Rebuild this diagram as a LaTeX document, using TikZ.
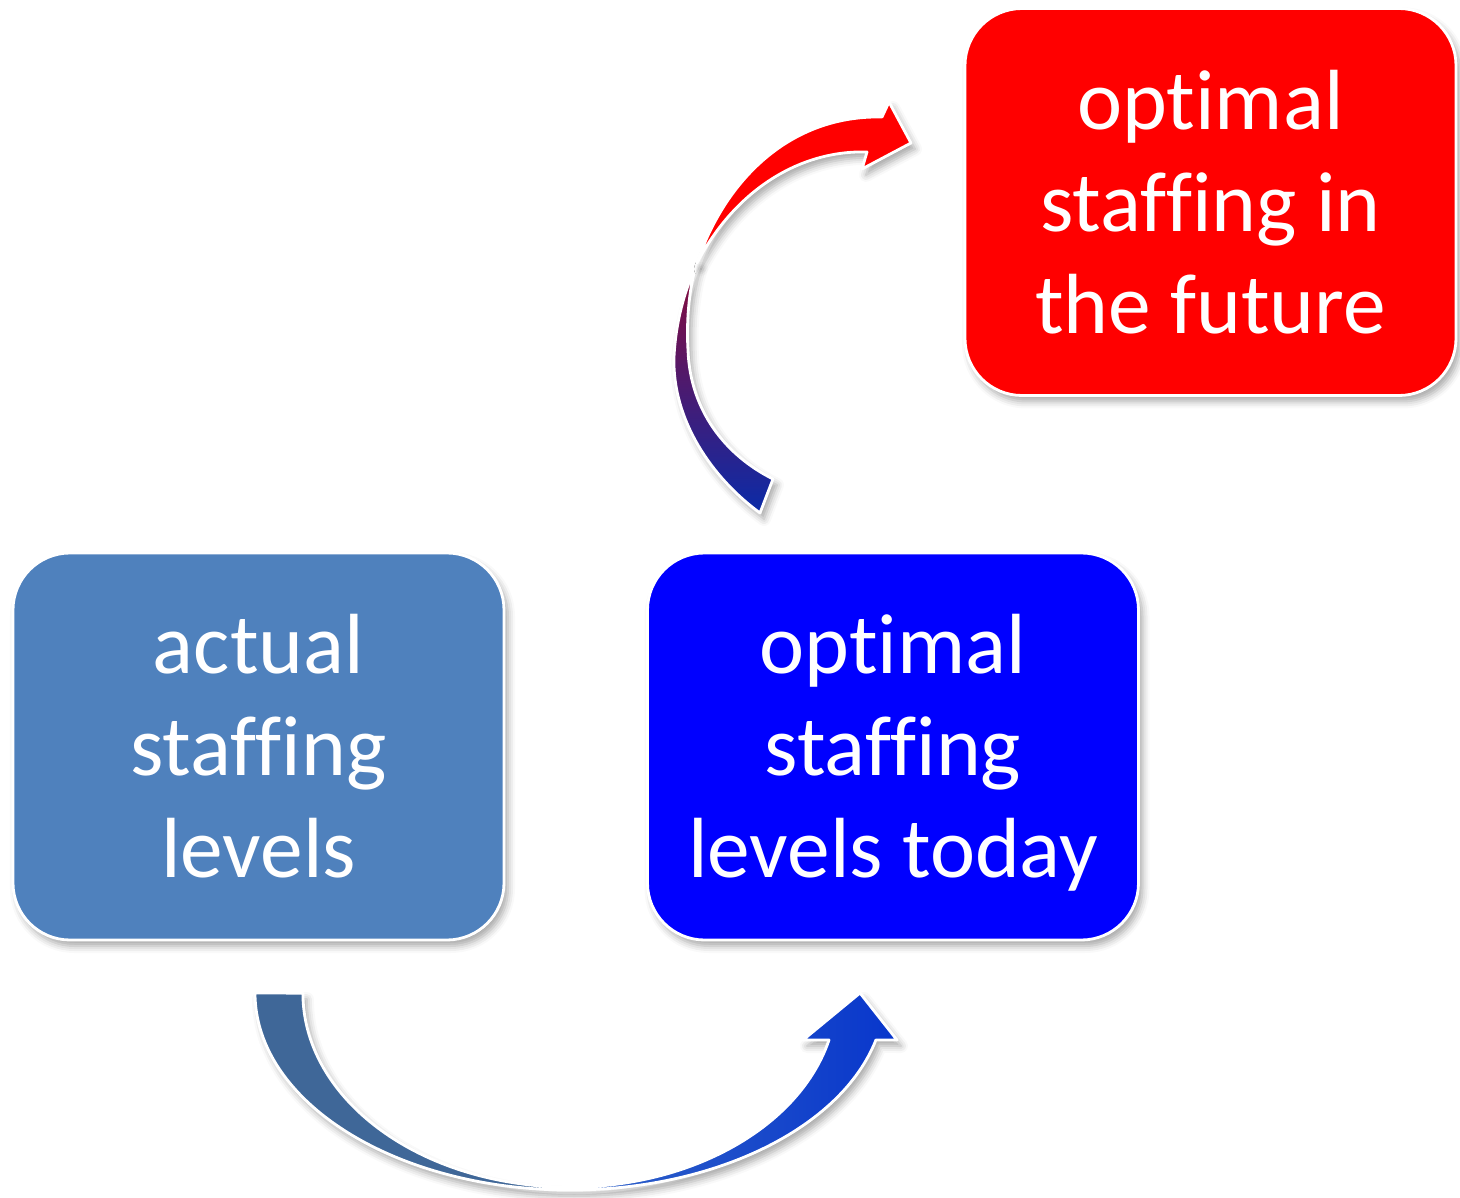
\documentclass[tikz,border=0pt]{standalone}
\usepackage{fontspec}
\setmainfont{Carlito}[Ligatures=NoCommon]
\usetikzlibrary{shadows.blur}

\definecolor{actualblue}{HTML}{4F81BD}
\definecolor{todayblue}{HTML}{0000FF}
\definecolor{futurered}{HTML}{FF0000}
\definecolor{steelarc}{HTML}{3F6798}
\definecolor{brightarc}{HTML}{2F62C8}
\definecolor{deeparc}{HTML}{0836CC}
\definecolor{tailblue}{HTML}{0A2BA8}
\definecolor{twistred}{HTML}{8C0A38}

% flat steel on the left half, brightening blue on the right half
\pgfdeclarehorizontalshading{lowsweep}{100bp}{color(0bp)=(steelarc); color(49bp)=(steelarc);
  color(50bp)=(brightarc); color(75bp)=(deeparc); color(100bp)=(deeparc)}

\begin{document}
\begin{tikzpicture}[x=1cm,y=1cm,
  softshadow/.style={blur shadow={shadow xshift=0.04cm, shadow yshift=-0.06cm,
    shadow blur radius=0.07cm, shadow opacity=35}},
  stage/.style={rounded corners=0.57cm, minimum width=4.91cm, minimum height=3.87cm,
    draw=white, line width=0.8pt, text=white, align=center,
    font=\fontsize{24.3}{29}\selectfont, softshadow},
  sweep/.style={draw=white, line width=0.8pt, line join=round, softshadow}]
\useasboundingbox (0,0) rectangle (14.60,11.97);

\node[stage, fill=actualblue] (actual) at (2.585,4.505) {actual\\ staffing\\ levels};
% smash keeps the descender of y from lifting the block
\node[stage, fill=todayblue] (today) at (8.93,4.505) {optimal\\ staffing\\ levels \smash{today}};
\node[stage, fill=futurered] (future) at (12.105,9.95) {optimal\\ staffing in\\ the future};

% lower sweep, under the two bottom boxes
\coordinate (lowtail) at (2.55,2.04);
\coordinate (lowtip) at (8.60,2.04);
\shadedraw[sweep, shading=lowsweep] (lowtail)
  arc[start angle=180, end angle=346.2, x radius=3.15, y radius=1.97]
  -- (8.97,1.57) -- (lowtip) -- (8.03,1.57) -- (8.29,1.57)
  arc[start angle=-13.98, end angle=-180, x radius=2.67, y radius=1.94] -- cycle;

% upper sweep, made of two pieces meeting at the twist
\coordinate (hightail) at (7.60,6.84);
\coordinate (twist) at (6.97,9.34);
\coordinate (hightip) at (9.11,10.54);
\shadedraw[sweep, bottom color=tailblue, top color=twistred] (hightail)
  .. controls (7.12,7.19) and (6.72,7.77) .. (6.74,8.40)
  .. controls (6.76,8.82) and (6.88,9.14) .. (twist)
  .. controls (6.90,9.14) and (6.86,8.79) .. (6.88,8.47)
  .. controls (6.90,7.87) and (7.25,7.42) .. (7.73,7.18) -- cycle;
\filldraw[sweep, fill=futurered] (twist)
  .. controls (7.25,10.17) and (7.90,10.82) .. (8.82,10.80)
  -- (8.89,10.95) -- (hightip) -- (8.62,10.28) -- (8.67,10.45)
  .. controls (8.00,10.47) and (7.35,10.07) .. (twist) -- cycle;
\end{tikzpicture}
\end{document}
